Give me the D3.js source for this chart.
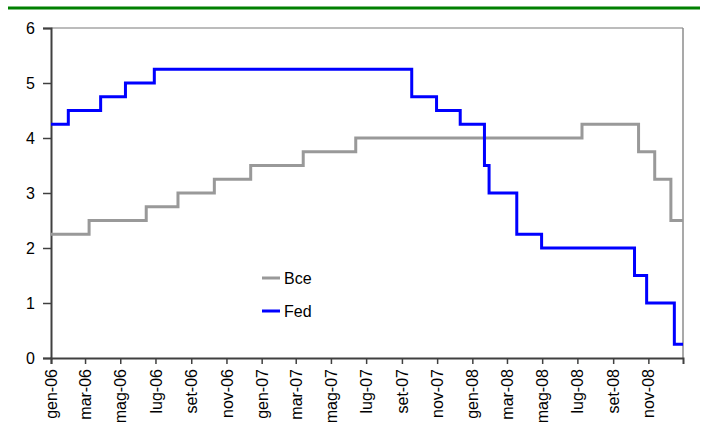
<!DOCTYPE html>
<html><head><meta charset="utf-8">
<script src="https://cdn.jsdelivr.net/npm/d3@7/dist/d3.min.js"></script>
<style>
html,body{margin:0;padding:0;background:#fff;}
svg text{font-family:"Liberation Sans Narrow","Arial Narrow","Liberation Sans",Arial,sans-serif;fill:#000;}
</style></head>
<body>
<svg id="chart" width="702" height="422"></svg>
<script>
// Data: policy rate change dates and levels
const bceDates = ["2006-01-01","2006-03-08","2006-06-15","2006-08-09","2006-10-11","2006-12-13","2007-03-14","2007-06-13","2008-07-09","2008-10-15","2008-11-12","2008-12-10","2008-12-31"];
const bceRates = [2.25,2.5,2.75,3.0,3.25,3.5,3.75,4.0,4.25,3.75,3.25,2.5,2.5];
const fedDates = ["2006-01-01","2006-01-31","2006-03-28","2006-05-10","2006-06-29","2007-09-18","2007-10-31","2007-12-11","2008-01-22","2008-01-30","2008-03-18","2008-04-30","2008-10-08","2008-10-29","2008-12-16","2008-12-31"];
const fedRates = [4.25,4.5,4.75,5.0,5.25,4.75,4.5,4.25,3.5,3.0,2.25,2.0,1.5,1.0,0.25,0.25];
const monthNames = ["gen","feb","mar","apr","mag","giu","lug","ago","set","ott","nov","dic"];
const yTicks = [0,1,2,3,4,5,6];
const seriesNames = ["Bce","Fed"];
const seriesColors = ["#999999","#0000ff"];

const parse = d3.utcParse("%Y-%m-%d");
const bce = bceDates.map((d,i)=>({date:parse(d),v:bceRates[i]}));
const fed = fedDates.map((d,i)=>({date:parse(d),v:fedRates[i]}));

const svg = d3.select("#chart");
const L=51, R=683, T=28, B=358;

const x = d3.scaleUtc().domain([parse("2006-01-01"), parse("2008-12-31")]).range([L,R]);
const y = d3.scaleLinear().domain([0,6]).range([B,T]);

// green header rule
svg.append("line").attr("x1",8).attr("x2",700).attr("y1",8).attr("y2",8)
  .attr("stroke","#008000").attr("stroke-width",3);

// top gridline and right border
svg.append("line").attr("x1",L).attr("x2",R).attr("y1",y(6)).attr("y2",y(6))
  .attr("stroke","#a6a6a6").attr("stroke-width",1.5);
svg.append("line").attr("x1",R).attr("x2",R).attr("y1",T).attr("y2",B)
  .attr("stroke","#8c8c8c").attr("stroke-width",1.5);

// y axis
const yAxis = d3.axisLeft(y).tickValues(yTicks).tickSize(8).tickPadding(8).tickFormat(d3.format("d"));
const gy = svg.append("g").attr("transform",`translate(${L},0)`).call(yAxis);
gy.select(".domain").attr("stroke","#404040").attr("stroke-width",2);
gy.selectAll(".tick line").attr("stroke","#404040").attr("stroke-width",1.5);
gy.selectAll("text").style("font-size","16px");

// x axis
const ticks = d3.utcMonth.range(parse("2006-01-01"), parse("2008-12-31"), 1).filter((d,i)=>i%2===0);
const xAxis = d3.axisBottom(x).tickValues(ticks).tickSize(6)
  .tickFormat(d=>monthNames[d.getUTCMonth()]+"-"+String(d.getUTCFullYear()).slice(2));
const gx = svg.append("g").attr("transform",`translate(0,${B})`).call(xAxis);
gx.select(".domain").attr("stroke","#404040").attr("stroke-width",2);
gx.selectAll(".tick line").attr("stroke","#404040").attr("stroke-width",1.5);
gx.selectAll("text").style("font-size","16px")
  .attr("text-anchor","end").attr("transform","rotate(-90)")
  .attr("x",-11).attr("y",0).attr("dy","0.35em");

// lines
const line = d3.line().x(d=>x(d.date)).y(d=>y(d.v)).curve(d3.curveStepAfter);
[bce,fed].forEach((s,i)=>{
  svg.append("path").datum(s).attr("d",line).attr("fill","none")
    .attr("stroke",seriesColors[i]).attr("stroke-width",3);
});

// legend
const lg = svg.append("g");
seriesNames.forEach((n,i)=>{
  const yy = 278 + i*33;
  lg.append("line").attr("x1",262).attr("x2",280).attr("y1",yy).attr("y2",yy)
    .attr("stroke",seriesColors[i]).attr("stroke-width",3);
  lg.append("text").attr("x",284).attr("y",yy).attr("dy","0.36em")
    .style("font-size","16px").text(n);
});
</script>
</body></html>
